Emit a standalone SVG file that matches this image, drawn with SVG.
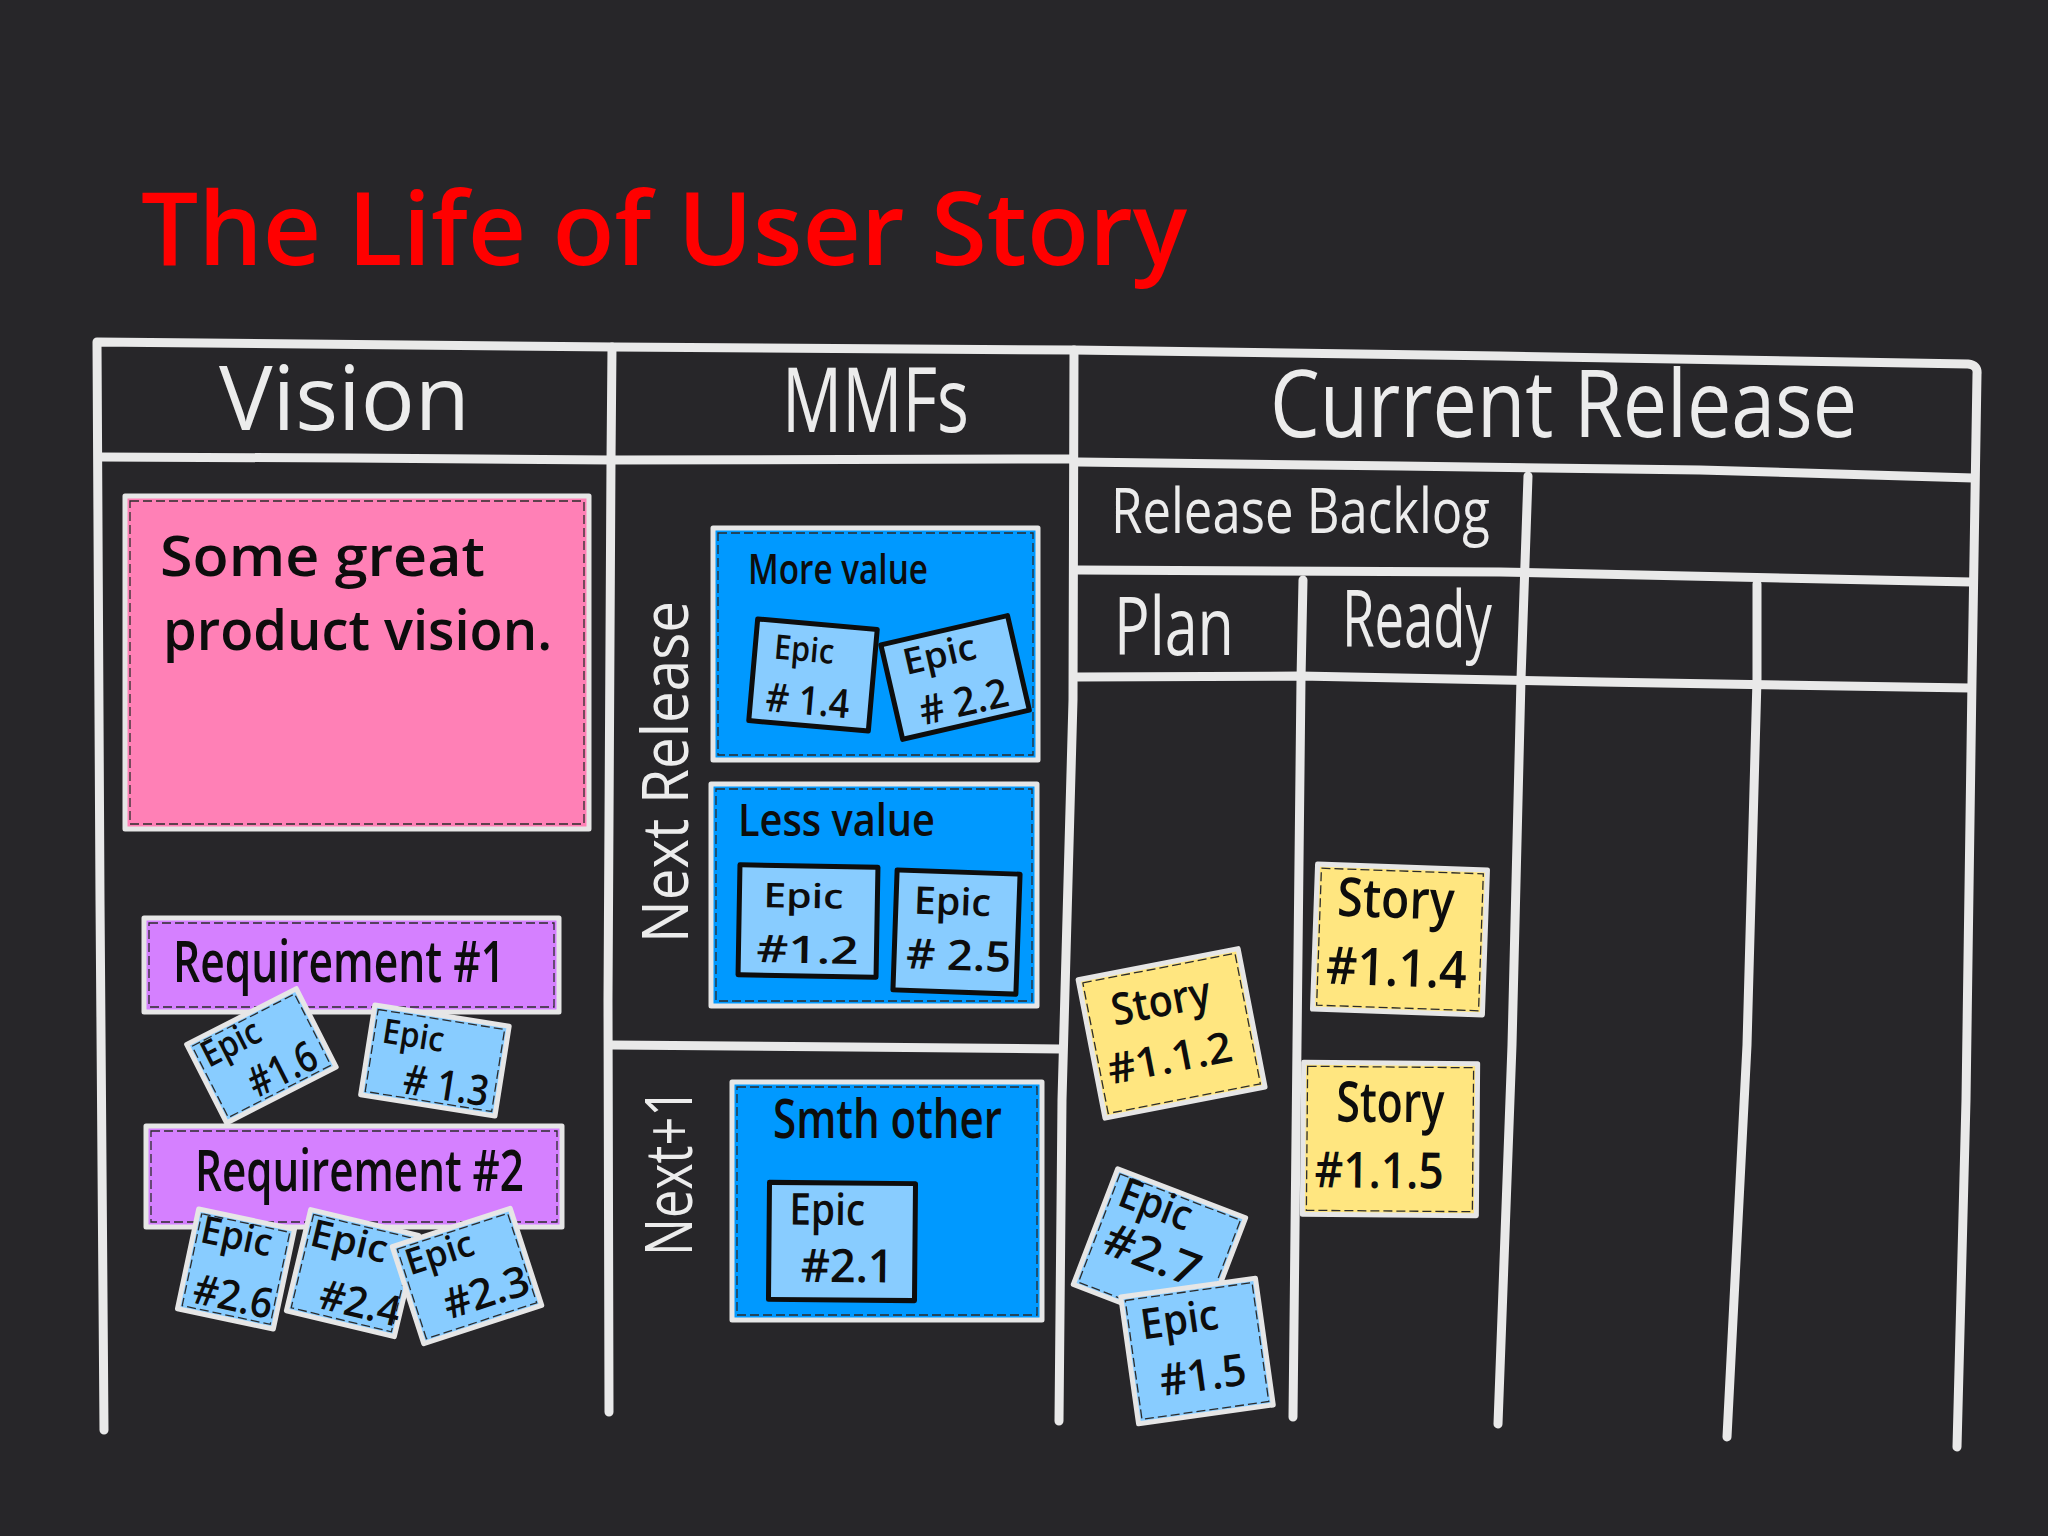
<svg xmlns="http://www.w3.org/2000/svg" width="2048" height="1536" viewBox="0 0 2048 1536">
<style>
.ln{fill:none;stroke:#e9e9e9;stroke-width:9;stroke-linecap:round;stroke-linejoin:round}
.wt{fill:#ececec;font-family:"Open Sans","Noto Sans",sans-serif;font-weight:500}
.bk{fill:#0d0d0d;font-family:"Open Sans","Noto Sans",sans-serif;font-weight:600}
.co{stroke:#e6e6e6;stroke-width:5;stroke-linejoin:round}
.ds{fill:none;stroke:#2b2b2b;stroke-width:1.3;stroke-dasharray:9 4}
.ie{fill:#88ccff;stroke:#0d0d0d;stroke-width:5;stroke-linejoin:round}
.pink{fill:#ff80b6}
.purple{fill:#d580ff}
.blue{fill:#0099ff}
.lblue{fill:#88ccff}
.yellow{fill:#ffe680}
</style>
<rect width="2048" height="1536" fill="#272629"/>
<text x="141" y="265" font-family="'Open Sans','Noto Sans',sans-serif" font-weight="600" font-size="102" fill="#ff0000" textLength="1046" lengthAdjust="spacingAndGlyphs">The Life of User Story</text>

<g id="board">
<path class="ln" d="M104,1430 L100,900 L97,342 L614,347 L1073,350 L1500,356 L1968,364 Q1978,365 1977,374 L1972,680 L1966,1100 L1957,1447"/>
<path class="ln" d="M99,457 L350,458 L611,460 L1073,459"/>
<path class="ln" d="M612,347 L611,460 L608,1000 L609,1412"/>
<path class="ln" d="M1074,350 L1073,700 L1062,1100 L1059,1421"/>
<path class="ln" d="M1078,462 L1400,466 L1700,470 L1973,478"/>
<path class="ln" d="M1078,570 L1500,572 L1971,582"/>
<path class="ln" d="M1078,677 L1300,676 L1600,682 L1970,688"/>
<path class="ln" d="M1528,476 L1521,679 L1512,1045 L1498,1424"/>
<path class="ln" d="M1303,580 L1301,679 L1297,1045 L1293,1417"/>
<path class="ln" d="M1757,584 L1757,679 L1747,1045 L1727,1437"/>
<path class="ln" d="M612,1045 L850,1047 L1060,1049"/>
</g>

<g id="labels">
<text class="wt" x="219" y="430" font-size="90" textLength="251" lengthAdjust="spacingAndGlyphs">Vision</text>
<text class="wt" x="782" y="432" font-size="90" textLength="187" lengthAdjust="spacingAndGlyphs">MMFs</text>
<text class="wt" x="1270" y="437" font-size="94" textLength="587" lengthAdjust="spacingAndGlyphs">Current Release</text>
<text class="wt" x="1111" y="533" font-size="62" textLength="379" lengthAdjust="spacingAndGlyphs">Release Backlog</text>
<text class="wt" x="1114" y="655" font-size="80" textLength="120" lengthAdjust="spacingAndGlyphs">Plan</text>
<text class="wt" x="1342" y="647" font-size="78" textLength="150" lengthAdjust="spacingAndGlyphs">Ready</text>
<text class="wt" transform="translate(688,943) rotate(-90)" font-size="64" textLength="342" lengthAdjust="spacingAndGlyphs">Next Release</text>
<text class="wt" transform="translate(692,1256) rotate(-90)" font-size="66" textLength="168" lengthAdjust="spacingAndGlyphs">Next+1</text>
</g>

<g id="vision-card">
<rect class="pink co" x="125" y="496" width="464" height="333"/>
<rect class="ds" x="130" y="501" width="454" height="323"/>
<text class="bk" x="160" y="576" font-size="56" textLength="325" lengthAdjust="spacingAndGlyphs">Some great</text>
<text class="bk" x="163" y="650" font-size="56" textLength="389" lengthAdjust="spacingAndGlyphs">product vision.</text>
</g>

<g id="requirement-1">
<rect class="purple co" x="144" y="918" width="415" height="94"/>
<rect class="ds" x="149" y="923" width="405" height="84"/>
<text class="bk" x="173" y="982" font-size="58" textLength="332" lengthAdjust="spacingAndGlyphs">Requirement  #1</text>
</g>
<g id="epic-1-6" transform="translate(261,1056) rotate(-27)">
<rect class="lblue co" x="-61" y="-44" width="123" height="88"/>
<rect class="ds" x="-57" y="-40" width="115" height="80"/>
<text class="bk" x="-52" y="-13" font-size="36" textLength="62" lengthAdjust="spacingAndGlyphs">Epic</text>
<text class="bk" x="-23" y="36" font-size="42" textLength="72" lengthAdjust="spacingAndGlyphs">#1.6</text>
</g>
<g id="epic-1-3" transform="translate(435,1060) rotate(9)">
<rect class="lblue co" x="-68" y="-45" width="136" height="91"/>
<rect class="ds" x="-64" y="-41" width="128" height="83"/>
<text class="bk" x="-56" y="-9" font-size="34" textLength="62" lengthAdjust="spacingAndGlyphs">Epic</text>
<text class="bk" x="-28" y="38" font-size="42" textLength="86" lengthAdjust="spacingAndGlyphs"># 1.3</text>
</g>

<g id="requirement-2">
<rect class="purple co" x="146" y="1126" width="416" height="101"/>
<rect class="ds" x="151" y="1131" width="406" height="91"/>
<text class="bk" x="195" y="1191" font-size="58" textLength="329" lengthAdjust="spacingAndGlyphs">Requirement #2</text>
</g>
<g id="epic-2-6" transform="translate(236,1269) rotate(12)">
<rect class="lblue co" x="-49" y="-51" width="98" height="102"/>
<rect class="ds" x="-45" y="-47" width="90" height="94"/>
<text class="bk" x="-42" y="-19" font-size="38" textLength="72" lengthAdjust="spacingAndGlyphs">Epic</text>
<text class="bk" x="-37" y="42" font-size="42" textLength="80" lengthAdjust="spacingAndGlyphs">#2.6</text>
</g>
<g id="epic-2-4" transform="translate(352,1273) rotate(13.5)">
<rect class="lblue co" x="-55" y="-52" width="111" height="104"/>
<rect class="ds" x="-51" y="-48" width="103" height="96"/>
<text class="bk" x="-49" y="-17" font-size="38" textLength="78" lengthAdjust="spacingAndGlyphs">Epic</text>
<text class="bk" x="-26" y="42" font-size="42" textLength="82" lengthAdjust="spacingAndGlyphs">#2.4</text>
</g>
<g id="epic-2-3" transform="translate(467,1276) rotate(-18)">
<rect class="lblue co" x="-62" y="-51" width="124" height="102"/>
<rect class="ds" x="-58" y="-47" width="116" height="94"/>
<text class="bk" x="-54" y="-18" font-size="36" textLength="70" lengthAdjust="spacingAndGlyphs">Epic</text>
<text class="bk" x="-31" y="36" font-size="42" textLength="88" lengthAdjust="spacingAndGlyphs">#2.3</text>
</g>

<g id="mmf-more-value">
<rect class="blue co" x="713" y="528" width="325" height="232"/>
<rect class="ds" x="718" y="533" width="315" height="222"/>
<text class="bk" x="748" y="584" font-size="42" textLength="180" lengthAdjust="spacingAndGlyphs">More value</text>
<g id="epic-1-4" transform="translate(813,675) rotate(5)">
<rect class="ie" x="-60" y="-51" width="120" height="102"/>
<text class="bk" x="-41" y="-13" font-size="34" textLength="60" lengthAdjust="spacingAndGlyphs">Epic</text>
<text class="bk" x="-45" y="40" font-size="40" textLength="84" lengthAdjust="spacingAndGlyphs"># 1.4</text>
</g>
<g id="epic-2-2" transform="translate(955,677) rotate(-13)">
<rect class="ie" x="-65" y="-48" width="130" height="97"/>
<text class="bk" x="-47" y="-13" font-size="36" textLength="74" lengthAdjust="spacingAndGlyphs">Epic</text>
<text class="bk" x="-42" y="40" font-size="40" textLength="90" lengthAdjust="spacingAndGlyphs"># 2.2</text>
</g>
</g>

<g id="mmf-less-value">
<rect class="blue co" x="711" y="784" width="326" height="222"/>
<rect class="ds" x="716" y="789" width="316" height="212"/>
<text class="bk" x="738" y="836" font-size="46" textLength="197" lengthAdjust="spacingAndGlyphs">Less value</text>
<g id="epic-1-2" transform="translate(808,921) rotate(1)">
<rect class="ie" x="-69" y="-55" width="138" height="110"/>
<text class="bk" x="-45" y="-13" font-size="34" textLength="80" lengthAdjust="spacingAndGlyphs">Epic</text>
<text class="bk" x="-51" y="42" font-size="38" textLength="102" lengthAdjust="spacingAndGlyphs">#1.2</text>
</g>
<g id="epic-2-5" transform="translate(956,932) rotate(2)">
<rect class="ie" x="-61" y="-60" width="123" height="120"/>
<text class="bk" x="-43" y="-17" font-size="38" textLength="77" lengthAdjust="spacingAndGlyphs">Epic</text>
<text class="bk" x="-49" y="38" font-size="42" textLength="105" lengthAdjust="spacingAndGlyphs"># 2.5</text>
</g>
</g>

<g id="mmf-smth-other">
<rect class="blue co" x="732" y="1082" width="310" height="238"/>
<rect class="ds" x="737" y="1087" width="300" height="228"/>
<text class="bk" x="773" y="1138" font-size="54" textLength="229" lengthAdjust="spacingAndGlyphs">Smth  other</text>
<g id="epic-2-1" transform="translate(842,1241) rotate(0.5)">
<rect class="ie" x="-73" y="-58" width="146" height="117"/>
<text class="bk" x="-53" y="-16" font-size="44" textLength="76" lengthAdjust="spacingAndGlyphs">Epic</text>
<text class="bk" x="-41" y="41" font-size="46" textLength="93" lengthAdjust="spacingAndGlyphs">#2.1</text>
</g>
</g>

<g id="story-1-1-2" transform="translate(1171,1033) rotate(-11)">
<rect class="yellow co" x="-81" y="-70" width="163" height="141"/>
<rect class="ds" x="-77" y="-66" width="155" height="133"/>
<text class="bk" x="-54" y="-18" font-size="44" textLength="100" lengthAdjust="spacingAndGlyphs">Story</text>
<text class="bk" x="-69" y="39" font-size="42" textLength="126" lengthAdjust="spacingAndGlyphs">#1.1.2</text>
</g>
<g id="story-1-1-4" transform="translate(1400,939) rotate(2)">
<rect class="yellow co" x="-85" y="-72" width="170" height="145"/>
<rect class="ds" x="-81" y="-68" width="162" height="137"/>
<text class="bk" x="-64" y="-21" font-size="54" textLength="117" lengthAdjust="spacingAndGlyphs">Story</text>
<text class="bk" x="-73" y="47" font-size="52" textLength="141" lengthAdjust="spacingAndGlyphs">#1.1.4</text>
</g>
<g id="story-1-1-5" transform="translate(1390,1139) rotate(0.5)">
<rect class="yellow co" x="-87" y="-76" width="174" height="152"/>
<rect class="ds" x="-83" y="-72" width="166" height="144"/>
<text class="bk" x="-54" y="-17" font-size="56" textLength="108" lengthAdjust="spacingAndGlyphs">Story</text>
<text class="bk" x="-75" y="49" font-size="50" textLength="129" lengthAdjust="spacingAndGlyphs">#1.1.5</text>
</g>
<g id="epic-2-7" transform="translate(1159,1251) rotate(21)">
<rect class="lblue co" x="-68" y="-62" width="137" height="124"/>
<rect class="ds" x="-64" y="-58" width="129" height="116"/>
<text class="bk" x="-57" y="-28" font-size="42" textLength="75" lengthAdjust="spacingAndGlyphs">Epic</text>
<text class="bk" x="-55" y="22" font-size="46" textLength="100" lengthAdjust="spacingAndGlyphs">#2.7</text>
</g>
<g id="epic-1-5" transform="translate(1197,1351) rotate(-8)">
<rect class="lblue co" x="-68" y="-64" width="136" height="128"/>
<rect class="ds" x="-64" y="-60" width="128" height="120"/>
<text class="bk" x="-52" y="-19" font-size="42" textLength="78" lengthAdjust="spacingAndGlyphs">Epic</text>
<text class="bk" x="-41" y="40" font-size="44" textLength="87" lengthAdjust="spacingAndGlyphs">#1.5</text>
</g>
<g id="connectors"/>
</svg>
